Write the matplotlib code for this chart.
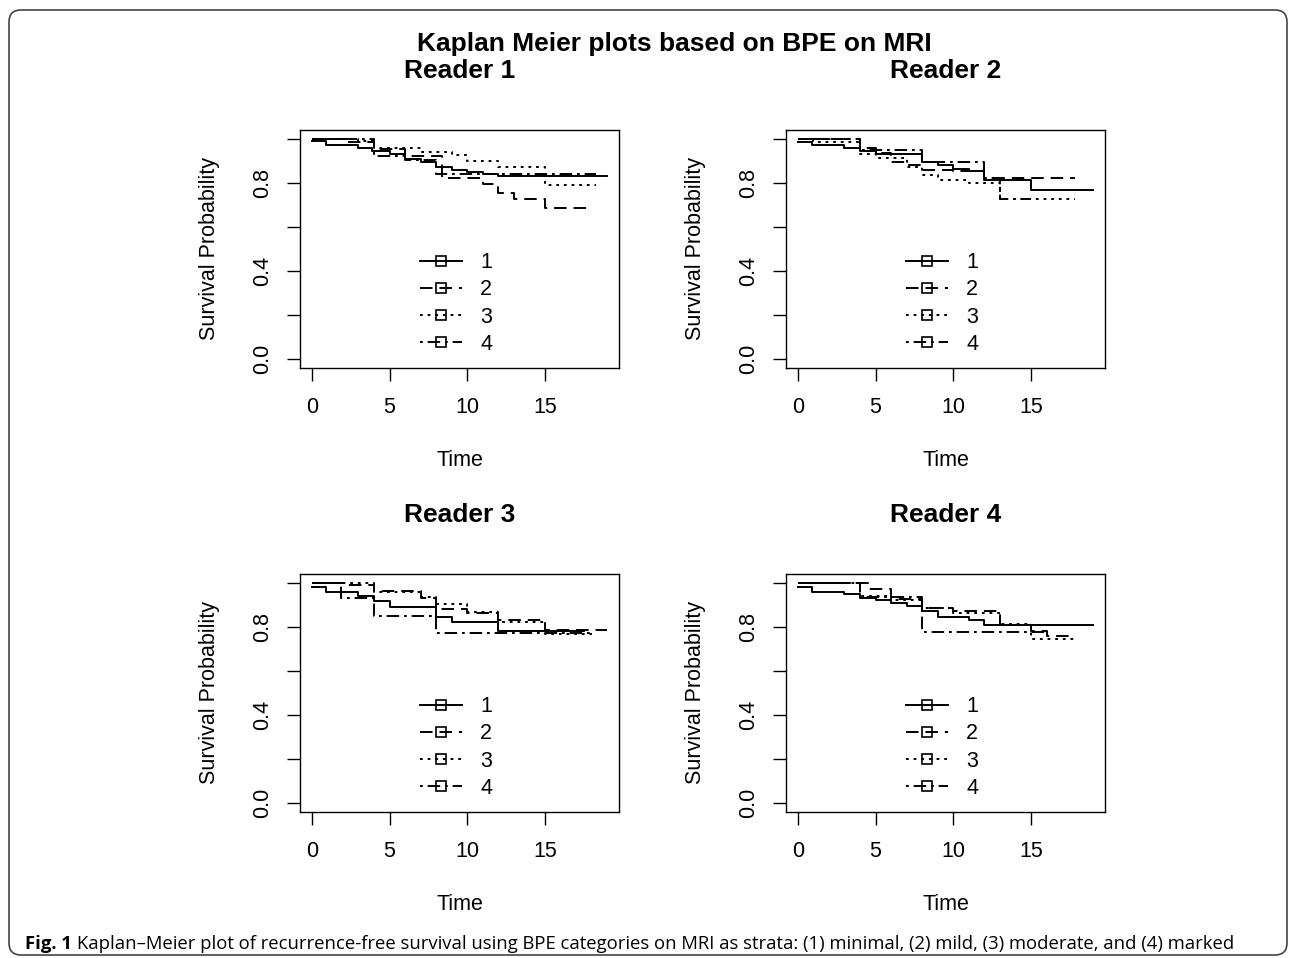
import numpy as np
import matplotlib
matplotlib.use("Agg")
import matplotlib.pyplot as plt
from matplotlib.lines import Line2D
from matplotlib.patches import FancyBboxPatch

plt.rcParams['font.family'] = ['Liberation Sans', 'DejaVu Sans']
plt.rcParams['lines.scale_dashes'] = False

# strata 1..4 (minimal, mild, moderate, marked) -- step times / survival
STRATA = ['1', '2', '3', '4']

READER1_TIMES = [[0, 0.9, 3, 3.9, 5, 6, 7, 8, 9, 10, 11, 12],
                 [0, 2, 4, 6, 8.4, 11, 12, 13, 15],
                 [0, 3, 4, 7, 9, 10, 12, 15],
                 [0, 4, 6, 8]]
READER1_SURV = [[0.988, 0.97, 0.96, 0.944, 0.93, 0.91, 0.894, 0.87, 0.858, 0.85, 0.84, 0.83],
                [1.0, 0.985, 0.955, 0.92, 0.82, 0.795, 0.755, 0.725, 0.685],
                [1.0, 0.99, 0.96, 0.94, 0.925, 0.9, 0.87, 0.79],
                [1.0, 0.92, 0.905, 0.84]]
READER1_END = [19, 18, 18.3, 18.3]

READER2_TIMES = [[0, 0.9, 3, 4, 5, 8, 9, 10, 11, 12, 15],
                 [0, 4, 5, 6, 7, 8, 10, 12],
                 [0, 1, 4, 5, 7, 8, 9, 11, 13],
                 [0, 4, 8, 12, 13]]
READER2_SURV = [[0.985, 0.97, 0.96, 0.944, 0.93, 0.894, 0.88, 0.864, 0.853, 0.815, 0.77],
                [1.0, 0.96, 0.935, 0.895, 0.88, 0.86, 0.855, 0.82],
                [1.0, 0.985, 0.93, 0.914, 0.87, 0.838, 0.815, 0.8, 0.727],
                [1.0, 0.95, 0.894, 0.82, 0.727]]
READER2_END = [19, 17.8, 17.8, 15]

READER3_TIMES = [[0, 0.9, 3, 4, 5, 8, 9, 12],
                 [0, 2, 4, 7, 8, 10, 12, 15],
                 [0, 4, 7, 8, 10, 12, 15],
                 [0, 1.9, 4, 8]]
READER3_SURV = [[0.98, 0.96, 0.94, 0.918, 0.89, 0.847, 0.82, 0.783],
                [1.0, 0.99, 0.965, 0.93, 0.88, 0.865, 0.83, 0.786],
                [1.0, 0.96, 0.935, 0.905, 0.867, 0.82, 0.77],
                [1.0, 0.93, 0.85, 0.773]]
READER3_END = [17.5, 19, 18, 18]

READER4_TIMES = [[0, 0.9, 3, 4, 5, 6, 7, 8, 9, 11, 12],
                 [0, 4.5, 6, 8, 10, 13, 15, 16],
                 [0, 4, 6, 8, 10, 13, 15],
                 [0, 4, 8]]
READER4_SURV = [[0.98, 0.96, 0.95, 0.93, 0.92, 0.91, 0.897, 0.87, 0.845, 0.83, 0.81],
                [1.0, 0.97, 0.925, 0.885, 0.87, 0.81, 0.78, 0.76],
                [1.0, 0.94, 0.92, 0.885, 0.862, 0.814, 0.745],
                [1.0, 0.935, 0.776]]
READER4_END = [19, 17.8, 18, 16]

READERS = ['Reader 1', 'Reader 2', 'Reader 3', 'Reader 4']
X_TICKS = [0, 5, 10, 15]
Y_TICKS = [0.0, 0.2, 0.4, 0.6, 0.8, 1.0]
Y_TICKLABELS = ['0.0', '', '0.4', '', '0.8', '']

# R lty 1..4
LINESTYLES = ['-', (0, (9, 5)), (0, (2, 3.5)), (0, (2, 3.5, 9, 3.5))]

W, H = 1290, 958
FS = 15.5  # axis text size
fig = plt.figure(figsize=(W / 100, H / 100), dpi=100)

# panel boxes in pixels: left, top
boxes = [(300, 130), (786, 130), (300, 574), (786, 574)]
bw, bh = 319, 238

data = [(READER1_TIMES, READER1_SURV, READER1_END),
        (READER2_TIMES, READER2_SURV, READER2_END),
        (READER3_TIMES, READER3_SURV, READER3_END),
        (READER4_TIMES, READER4_SURV, READER4_END)]

for (left, top), name, (times, surv, ends) in zip(boxes, READERS, data):
    ax = fig.add_axes([left / W, 1 - (top + bh) / H, bw / W, bh / H])
    for t, s, e, ls in zip(times, surv, ends, LINESTYLES):
        tt = np.append(t, e)
        ss = np.append(s, s[-1])
        ax.step(tt, ss, where='post', color='black', lw=1.4, linestyle=ls)

    ax.set_xlim(-0.76, 19.76)
    ax.set_ylim(-0.04, 1.04)
    ax.set_xticks(X_TICKS)
    ax.set_yticks(Y_TICKS)
    ax.set_yticklabels(Y_TICKLABELS)
    ax.tick_params(direction='out', length=9.6, width=1.0, labelsize=FS)
    ax.tick_params(axis='x', pad=11.5)
    ax.tick_params(axis='y', pad=10, labelrotation=90)
    for lab in ax.get_yticklabels():
        lab.set_va('center')
    for sp in ax.spines.values():
        sp.set_linewidth(1.0)

    ax.set_xlabel('Time', fontsize=FS)
    ax.set_ylabel('Survival Probability', fontsize=FS)
    ax.xaxis.set_label_coords(0.5, -0.345)
    ax.yaxis.set_label_coords(-0.252, 0.5)

    fig.text((left + bw / 2) / W, 1 - (top - 59) / H, name,
             ha='center', va='center', fontsize=19, fontweight='bold')

    handles = [Line2D([], [], color='black', lw=1.4, linestyle=ls, marker='s',
                      markersize=7.5, markerfacecolor='none', markeredgewidth=1.2)
               for ls in LINESTYLES]
    ax.legend(handles, STRATA, loc='upper left', bbox_to_anchor=(0.376, 0.487),
              frameon=False, fontsize=FS, borderpad=0, borderaxespad=0,
              handlelength=1.95, handletextpad=0.84, labelspacing=0.29, numpoints=1)

fig.text(674 / W, 1 - 44 / H, 'Kaplan Meier plots based on BPE on MRI',
         ha='center', va='center', fontsize=19, fontweight='bold')

# rounded frame around the whole figure
frame = FancyBboxPatch((0.09, 0.03), 12.78, 9.45,
                       boxstyle='round,pad=0,rounding_size=0.12',
                       transform=fig.dpi_scale_trans, fill=False,
                       edgecolor='#444444', lw=1.2)
fig.patches.append(frame)

# caption: bold "Fig. 1" then regular text
renderer = fig.canvas.get_renderer()
cap_y = 1 - 949 / H
t1 = fig.text(25 / W, cap_y, 'Fig. 1', fontsize=13.3, fontweight='bold',
              family=['Open Sans', 'DejaVu Sans'], va='baseline')
bb = t1.get_window_extent(renderer)
fig.text((bb.x1 + 5) / W, cap_y,
         'Kaplan\u2013Meier plot of recurrence-free survival using BPE categories on MRI '
         'as strata: (1) minimal, (2) mild, (3) moderate, and (4) marked',
         fontsize=13.3, family=['Open Sans', 'DejaVu Sans'], va='baseline')

fig.savefig('out.png', dpi=100)
